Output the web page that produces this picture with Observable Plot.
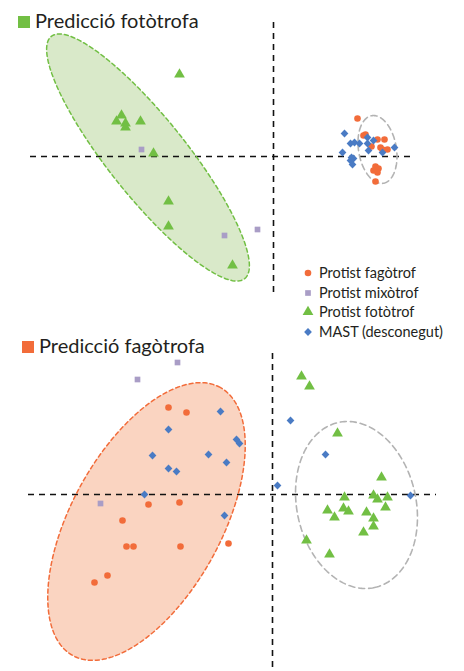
<!DOCTYPE html>
<html><head><meta charset="utf-8">
<script src="https://cdn.jsdelivr.net/npm/d3@7"></script>
<script src="https://cdn.jsdelivr.net/npm/@observablehq/plot@0.6"></script>
<style>
html,body{margin:0;padding:0;background:#fff;}
#wrap{position:relative;width:464px;height:671px;overflow:hidden;font-family:Lato,"Open Sans",sans-serif;color:#231f20;}
.panel{position:absolute;left:0;}
.title{position:absolute;font-size:20px;line-height:20px;white-space:nowrap;}
.title .sq{display:inline-block;width:12px;height:12px;margin-right:5px;vertical-align:0px;}
#legend{position:absolute;left:301px;top:263px;font-size:14.5px;line-height:19.6px;}
#legend div{white-space:nowrap;}
#legend svg{vertical-align:-2px;margin-right:4px;}
</style></head>
<body>
<div id="wrap">
  <div id="top" class="panel" style="top:0"></div>
  <div id="bottom" class="panel" style="top:330px"></div>
  <div class="title" style="left:18px;top:10px"><span class="sq" style="background:#72bf44"></span>Predicció fotòtrofa</div>
  <div class="title" style="left:22px;top:335px"><span class="sq" style="background:#f26c3a"></span>Predicció fagòtrofa</div>
  <div id="legend"></div>
</div>
<script>
// ---- data (PCA-like coordinates, axes cross at 0,0) ----
const groups = ["Protist fagòtrof", "Protist mixòtrof", "Protist fotòtrof", "MAST (desconegut)"];
const groupColors = ["#f26c3a", "#a99dc6", "#72bf44", "#4a7bc4"];
const groupSymbols = ["circle", "square", "triangle", "diamond2"];
const groupRadius = [3.3, 3.2, 4.0, 3.5];

// Top panel: Predicció fotòtrofa
const topFagotrof = [[0.84,0.38],[0.90,0.21],[0.92,0.22],[0.98,0.10],[1.04,0.17],[1.11,0.17],[1.07,0.09],[1.14,0.07],[1.09,0.07],[1.02,-0.10],[1.05,-0.12],[1.00,-0.14],[1.04,-0.16],[1.02,-0.25]];
const topMixotrof = [[-1.32,0.07],[-0.49,-0.79],[-0.16,-0.73]];
const topFototrof = [[-0.94,0.82],[-1.52,0.41],[-1.57,0.35],[-1.48,0.33],[-1.48,0.29],[-1.33,0.35],[-1.20,0.03],[-1.05,-0.45],[-1.05,-0.70],[-0.41,-1.09]];
const topMast = [[0.71,0.23],[0.77,0.13],[0.81,0.14],[0.86,0.13],[0.94,0.19],[1.00,0.16],[0.94,0.13],[0.95,0.06],[0.69,0.04],[0.78,-0.01],[0.80,-0.02],[0.77,-0.04],[0.79,-0.08],[1.09,0.04],[1.21,0.09]];
// ellipses: [cx, cy, semi-major, semi-minor, angle deg]
const topEllipseMain = [-1.255, -0.01, 1.55, 0.39, -51.4];
const topEllipseOther = [1.04, 0.07, 0.343, 0.189, -80.3];
const topAxisX = [-2.43, 1.42];   // extent of the y=0 line
const topAxisY = [-1.36, 1.34];   // extent of the x=0 line

// Bottom panel: Predicció fagòtrofa
const botFagotrof = [[-1.04,0.87],[-0.86,0.82],[-1.24,-0.10],[-0.93,-0.08],[-1.50,-0.26],[-1.46,-0.52],[-1.39,-0.52],[-0.92,-0.52],[-0.44,-0.49],[-1.65,-0.81],[-1.78,-0.88]];
const botMixotrof = [[-0.95,1.32],[-1.35,1.15],[-1.72,-0.09]];
const botFototrof = [[0.29,1.18],[0.37,1.08],[0.65,0.61],[1.09,0.17],[0.72,-0.03],[1.01,-0.01],[1.05,-0.05],[1.15,-0.03],[0.71,-0.14],[0.55,-0.16],[0.76,-0.17],[0.94,-0.18],[1.13,-0.13],[0.62,-0.23],[1.01,-0.24],[1.01,-0.32],[0.91,-0.38],[0.34,-0.46],[0.57,-0.60]];
const botMast = [[-0.52,0.83],[-1.04,0.65],[-0.36,0.55],[-0.33,0.51],[-1.20,0.39],[-0.64,0.40],[-0.46,0.32],[-1.04,0.26],[-0.96,0.23],[-1.28,0.00],[-0.48,-0.21],[0.05,0.09],[0.18,0.74],[0.53,0.40],[1.38,-0.01]];
const botEllipseMain = [-1.26, -0.27, 1.53, 0.75, 61.2];
const botEllipseOther = [0.84, -0.105, 0.845, 0.596, -77.6];
const botAxisX = [-2.44, 1.64];
const botAxisY = [-1.73, 1.42];

// ---- helpers ----
function ellipsePts([cx, cy, a, b, deg]) {
  const t = deg * Math.PI / 180, pts = [];
  for (let i = 0; i < 180; i++) {
    const u = 2 * Math.PI * i / 180;
    const ex = a * Math.cos(u), ey = b * Math.sin(u);
    pts.push({x: cx + ex * Math.cos(t) - ey * Math.sin(t), y: cy + ex * Math.sin(t) + ey * Math.cos(t)});
  }
  return pts;
}
function dots(arr, gi) {
  return Plot.dot(arr, {x: d => d[0], y: d => d[1], symbol: groupSymbols[gi], fill: groupColors[gi], r: groupRadius[gi], stroke: "none"});
}
function panel(opts) {
  const main = ellipsePts(opts.main), other = ellipsePts(opts.other);
  return Plot.plot({
    width: 464, height: opts.height, margin: 0,
    x: {domain: opts.xDomain, axis: null},
    y: {domain: opts.yDomain, axis: null},
    marks: [
      Plot.line(main, {x: "x", y: "y", curve: "linear-closed", fill: opts.fill, stroke: "none"}),
      Plot.ruleY([0], {x1: opts.axisX[0], x2: opts.axisX[1], stroke: "#111", strokeWidth: 1.6, strokeDasharray: "6,5"}),
      Plot.ruleX([0], {y1: opts.axisY[0], y2: opts.axisY[1], stroke: "#111", strokeWidth: 1.6, strokeDasharray: "6,5"}),
      Plot.line(main, {x: "x", y: "y", curve: "linear-closed", fill: "none", stroke: opts.stroke, strokeWidth: 1.5, strokeDasharray: "4,3"}),
      Plot.line(other, {x: "x", y: "y", curve: "linear-closed", fill: "none", stroke: "#b3b3b3", strokeWidth: 1.6, strokeDasharray: "6,4"}),
      dots(opts.fag, 0), dots(opts.mix, 1), dots(opts.foto, 2), dots(opts.mast, 3)
    ]
  });
}

document.getElementById("top").append(panel({
  height: 300, xDomain: [-2.73, 1.91], yDomain: [-1.44, 1.56],
  main: topEllipseMain, other: topEllipseOther, fill: "#d9e9c9", stroke: "#72bf44",
  axisX: topAxisX, axisY: topAxisY,
  fag: topFagotrof, mix: topMixotrof, foto: topFototrof, mast: topMast
}));
document.getElementById("bottom").append(panel({
  height: 341, xDomain: [-2.72, 1.92], yDomain: [-1.77, 1.64],
  main: botEllipseMain, other: botEllipseOther, fill: "#fad4c1", stroke: "#f26c3a",
  axisX: botAxisX, axisY: botAxisY,
  fag: botFagotrof, mix: botMixotrof, foto: botFototrof, mast: botMast
}));

// legend
const leg = document.getElementById("legend");
groups.forEach((g, i) => {
  const row = document.createElement("div");
  const sym = d3.symbol(d3[{circle: "symbolCircle", square: "symbolSquare", triangle: "symbolTriangle", diamond2: "symbolDiamond2"}[groupSymbols[i]]], Math.PI * groupRadius[i] ** 2)();
  row.innerHTML = `<svg width="14" height="14" viewBox="-7 -7 14 14"><path d="${sym}" fill="${groupColors[i]}"/></svg>${g}`;
  leg.append(row);
});
</script>
</body></html>
